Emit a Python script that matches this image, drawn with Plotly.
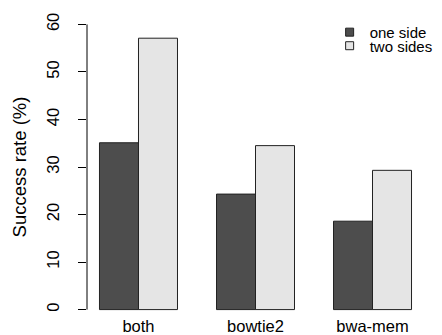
import plotly.graph_objects as go

categories = ["both", "bowtie2", "bwa-mem"]
one_side = [35.1, 24.3, 18.6]
two_sides = [57.1, 34.5, 29.3]
series_names = ["one side", "two sides"]
y_ticks = [0, 10, 20, 30, 40, 50, 60]

FONT = "Liberation Sans, Arial, Helvetica, sans-serif"
DARK = "#4d4d4d"
LIGHT = "#e5e5e5"

fig = go.Figure()
for name, vals, col, lg in [(series_names[0], one_side, DARK, "legend"),
                            (series_names[1], two_sides, LIGHT, "legend2")]:
    fig.add_trace(go.Bar(x=categories, y=vals, name=name, marker_color=col,
                         marker_line_color="#222222", marker_line_width=1,
                         showlegend=False))
    fig.add_trace(go.Scatter(x=[None], y=[None], mode="markers", name=name,
                             marker=dict(symbol="square", size=8, color=col,
                                         line=dict(color="#222222", width=1)),
                             legend=lg, showlegend=True))

fig.update_layout(
    width=442, height=335,
    margin=dict(l=79, r=26, t=5, b=22, autoexpand=False),
    plot_bgcolor="white", paper_bgcolor="white",
    barmode="group", bargap=1/3, bargroupgap=0,
    font=dict(family=FONT, size=16.5, color="black"),
    xaxis=dict(range=[-0.44, 2.44], showline=False, showgrid=False, zeroline=False,
               ticks="", tickfont=dict(size=16.5), ticklabelstandoff=-7),
    yaxis=dict(range=[-2.4, 62.4], showline=False, showgrid=False, zeroline=False,
               tickvals=y_ticks, ticks="outside", ticklen=8, tickcolor="black",
               tickwidth=1, tickangle=-90, tickfont=dict(size=16.5), ticklabelstandoff=12,
               title=dict(text="Success rate (%)", font=dict(size=18.5), standoff=12)),
    legend=dict(x=0.72, y=0.937, xanchor="left", yanchor="middle",
                font=dict(size=15), bgcolor="rgba(0,0,0,0)", itemclick=False),
    legend2=dict(x=0.72, y=0.893, xanchor="left", yanchor="middle",
                 font=dict(size=15), bgcolor="rgba(0,0,0,0)", itemclick=False),
)
fig.add_shape(type="line", xref="paper", yref="y", x0=0, x1=0, y0=y_ticks[0], y1=y_ticks[-1],
              line=dict(color="black", width=1))

fig.write_html("out.html")
